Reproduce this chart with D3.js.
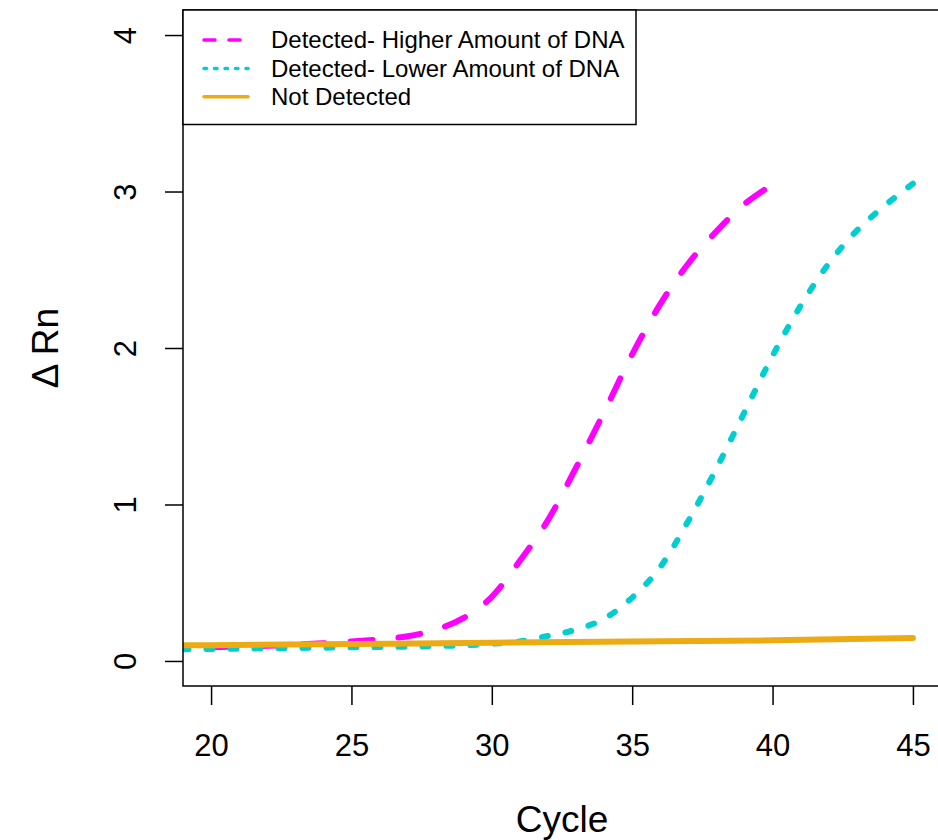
<!DOCTYPE html>
<html>
<head>
<meta charset="utf-8">
<script src="https://cdn.jsdelivr.net/npm/d3@7"></script>
<style>
  html, body { margin: 0; padding: 0; background: #fff; }
  svg { display: block; font-family: "Liberation Sans", Arial, Helvetica, sans-serif; }
</style>
</head>
<body>
<svg id="chart"></svg>
<script>
// values
const higherCycle = [19, 20, 21, 22, 23, 24, 25, 26, 27, 28, 29, 30, 31, 32, 33, 34, 35, 36, 37, 38, 39, 39.7];
const higherRn = [0.085, 0.088, 0.092, 0.097, 0.104, 0.113, 0.124, 0.138, 0.158, 0.2, 0.275, 0.41, 0.64, 0.9, 1.235, 1.59, 1.96, 2.28, 2.54, 2.745, 2.92, 3.01];

const lowerCycle = [19, 20, 21, 22, 23, 24, 25, 26, 27, 28, 29, 30, 31, 32, 33, 34, 35, 36, 37, 38, 39, 40, 41, 42, 43, 44, 45];
const lowerRn = [0.075, 0.077, 0.079, 0.081, 0.083, 0.085, 0.087, 0.089, 0.091, 0.095, 0.1, 0.11, 0.125, 0.16, 0.2, 0.27, 0.405, 0.6, 0.895, 1.23, 1.59, 1.95, 2.27, 2.54, 2.75, 2.91, 3.05];

const notCycle = [19, 20, 25, 30, 35, 40, 45];
const notRn = [0.1, 0.101, 0.108, 0.117, 0.124, 0.132, 0.147];

const legendLabels = ["Detected- Higher Amount of DNA", "Detected- Lower Amount of DNA", "Not Detected"];
const xTicks = [20, 25, 30, 35, 40, 45];
const yTicks = [0, 1, 2, 3, 4];

const svgWidth = 938, svgHeight = 840;
const margin = { top: 10, right: -3, bottom: 154, left: 183 };
const width = svgWidth - margin.left - margin.right;
const height = svgHeight - margin.top - margin.bottom;

const svg = d3.select("#chart")
  .attr("width", svgWidth)
  .attr("height", svgHeight);

const g = svg.append("g")
  .attr("transform", `translate(${margin.left},${margin.top})`);

const x = d3.scaleLinear().domain([19, 46]).range([0, width]);
const y = d3.scaleLinear().domain([-0.16, 4.16]).range([height, 0]);

g.append("clipPath").attr("id", "clip")
  .append("rect").attr("width", width).attr("height", height);

const series = [
  { cyc: higherCycle, rn: higherRn, color: "#FF00FF", dash: [22, 26], lw: 6, legDash: "11,14" },
  { cyc: lowerCycle, rn: lowerRn, color: "#00CED1", dash: [6, 18], lw: 6, legDash: "2.5,8" },
  { cyc: notCycle, rn: notRn, color: "#ECAA13", dash: null, lw: 6, legDash: null }
];

const line = d3.line()
  .x(d => x(d[0]))
  .y(d => y(d[1]))
  .curve(d3.curveMonotoneX);

g.append("g").attr("clip-path", "url(#clip)")
  .selectAll("path")
  .data(series)
  .enter()
  .append("path")
  .attr("d", s => line(s.cyc.map((c, i) => [c, s.rn[i]])))
  .attr("fill", "none")
  .attr("stroke", s => s.color)
  .attr("stroke-width", s => s.lw)
  .attr("stroke-linecap", "round")
  .attr("stroke-linejoin", "round")
  .attr("stroke-dasharray", s => s.dash ? s.dash.join(",") : null)
  .attr("stroke-dashoffset", function (s) {
    if (!s.dash) return null;
    // let the pattern finish on a dash at the end of the curve
    const len = this.getTotalLength();
    const period = s.dash[0] + s.dash[1];
    return s.dash[0] - (len % period);
  });

// axes
const xAxis = g.append("g")
  .attr("transform", `translate(0,${height})`)
  .call(d3.axisBottom(x).tickValues(xTicks).tickFormat(d3.format("d")).tickSize(19));
xAxis.select(".domain").remove();

const yAxis = g.append("g")
  .call(d3.axisLeft(y).tickValues(yTicks).tickFormat(d3.format("d")).tickSize(18));
yAxis.select(".domain").remove();

[xAxis, yAxis].forEach(a => {
  a.selectAll("line").attr("stroke", "#000").attr("stroke-width", 1.5);
  a.selectAll("text").style("font-size", "31px").attr("fill", "#000")
    .style("font-family", "'Liberation Sans', Arial, Helvetica, sans-serif");
});
xAxis.selectAll("text").attr("dy", "0.71em").attr("y", 48);

yAxis.selectAll("text")
  .attr("x", null).attr("dy", null)
  .attr("transform", "translate(-47,0) rotate(-90)")
  .attr("text-anchor", "middle");

// plot box
g.append("rect")
  .attr("width", width).attr("height", height)
  .attr("fill", "none").attr("stroke", "#000").attr("stroke-width", 1.5);

// axis titles
svg.append("text")
  .attr("x", margin.left + x(32.5))
  .attr("y", 832)
  .attr("text-anchor", "middle")
  .style("font-size", "37px")
  .text("Cycle");

svg.append("text")
  .attr("transform", `translate(58,${margin.top + y(2)}) rotate(-90)`)
  .attr("text-anchor", "middle")
  .style("font-size", "37px")
  .text("\u0394 Rn");

// legend
const leg = g.append("g");
leg.append("rect")
  .attr("x", 0).attr("y", 0)
  .attr("width", 453).attr("height", 114.5)
  .attr("fill", "#fff").attr("stroke", "#000").attr("stroke-width", 1.5);

const rows = leg.selectAll(".row")
  .data(series)
  .enter()
  .append("g")
  .attr("transform", (d, i) => `translate(0,${30 + i * 28.4})`);

rows.append("line")
  .attr("x1", 21).attr("x2", 65)
  .attr("stroke", d => d.color)
  .attr("stroke-width", 3.5)
  .attr("stroke-linecap", "round")
  .attr("stroke-dasharray", d => d.legDash);

rows.append("text")
  .attr("x", 88)
  .attr("dy", "0.35em")
  .style("font-size", "24px")
  .text((d, i) => legendLabels[i]);
</script>
</body>
</html>
